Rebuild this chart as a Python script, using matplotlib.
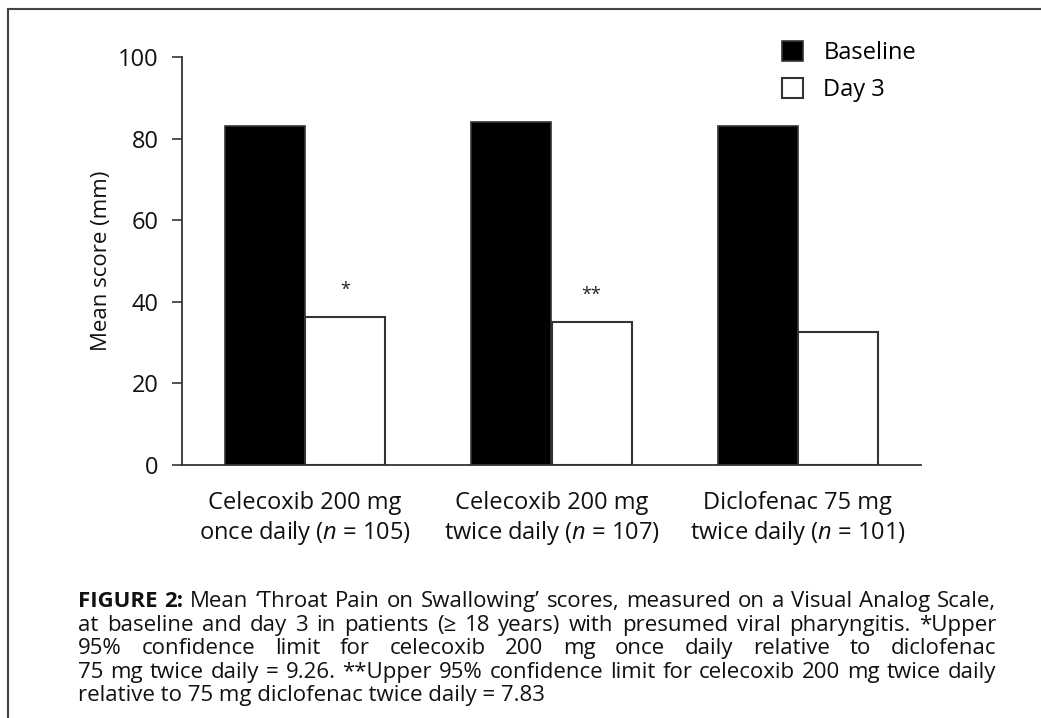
import matplotlib
matplotlib.use('Agg')
import matplotlib.pyplot as plt
import numpy as np

plt.rcParams['font.family'] = ['Open Sans', 'DejaVu Sans']
plt.rcParams['mathtext.fontset'] = 'custom'
plt.rcParams['mathtext.rm'] = 'Open Sans'
plt.rcParams['mathtext.it'] = 'Open Sans:italic'

# data
groups = ['Celecoxib 200 mg\nonce daily ($\\mathit{n}$ = 105)',
          'Celecoxib 200 mg\ntwice daily ($\\mathit{n}$ = 107)',
          'Diclofenac 75 mg\ntwice daily ($\\mathit{n}$ = 101)']
baseline = [83.2, 84.1, 83.2]
day3 = [36.3, 35.1, 32.7]
stars = ['*', '**', '']
yticks = [0, 20, 40, 60, 80, 100]

caption = [
    [('FIGURE', 'bold'), ('2:', 'bold'), ('Mean ‘Throat Pain on Swallowing’ scores, measured on a Visual Analog Scale,', 'normal')],
    [('at baseline and day 3 in patients (≥ 18 years) with presumed viral pharyngitis. *Upper', 'normal')],
    [('95% confidence limit for celecoxib 200 mg once daily relative to diclofenac', 'normal')],
    [('75 mg twice daily = 9.26. **Upper 95% confidence limit for celecoxib 200 mg twice daily', 'normal')],
    [('relative to 75 mg diclofenac twice daily = 7.83', 'normal')],
]

W, H = 1041, 718
fig = plt.figure(figsize=(W / 100, H / 100), dpi=100)


def fx(px):
    return px / W


def fy(py):
    return 1 - py / H


ax = fig.add_axes([fx(182), fy(465), fx(921) - fx(182), fy(57) - fy(465)])

x = np.arange(len(groups))
w = 0.325
ax.bar(x - w / 2, baseline, w, color='black', edgecolor='#333333', lw=1.2, label='Baseline')
ax.bar(x + w / 2, day3, w, color='white', edgecolor='#333333', lw=1.5, label='Day 3')

for xi, v, s in zip(x, day3, stars):
    if s:
        ax.annotate(s, (xi + w / 2, v), xytext=(0, 13), textcoords='offset points',
                    ha='center', va='bottom', fontsize=13, color='#222222')

ax.set_xlim(-0.5, 2.5)
ax.set_ylim(0, 100)
ax.set_yticks(yticks)
ax.set_xticks(x)
ax.set_xticklabels(groups, fontsize=17, color='#111111', linespacing=1.2)
ax.tick_params(axis='x', length=0, pad=19)
ax.tick_params(axis='y', length=7, width=1.2, pad=10, labelsize=17, colors='#333333', labelcolor='#111111')
for sp in ['top', 'right']:
    ax.spines[sp].set_visible(False)
for sp in ['left', 'bottom']:
    ax.spines[sp].set_color('#333333')
    ax.spines[sp].set_linewidth(1.3)
ax.set_ylabel('Mean score (mm)', fontsize=16, color='#111111', labelpad=4)

ax.legend(loc='upper left', bbox_to_anchor=(fx(782), fy(41)), bbox_transform=fig.transFigure,
          frameon=False, fontsize=17, handlelength=0.9, handleheight=0.9,
          handletextpad=0.85, labelspacing=0.55, borderaxespad=0, borderpad=0)

# frame around the figure
fig.add_artist(plt.Line2D([fx(8), 1], [fy(9), fy(9)], color='#444444', lw=1.5))
fig.add_artist(plt.Line2D([fx(8), fx(8)], [fy(9), 0], color='#444444', lw=1.5))

# caption, justified except the last line
renderer = fig.canvas.get_renderer()
x0, x1 = 78, 996
line_y = [607, 631, 654, 678, 701]  # baselines
for i, (runs, ly) in enumerate(zip(caption, line_y)):
    words = []
    for txt, wt in runs:
        for wd in txt.split(' '):
            words.append((wd, wt))
    if i == len(caption) - 1:
        fig.text(fx(x0), fy(ly), runs[0][0], fontsize=16, color='#111111', va='baseline', ha='left')
        continue
    items = [fig.text(0, fy(ly), wd, fontsize=16, fontweight=wt, color='#111111', va='baseline', ha='left')
             for wd, wt in words]
    widths = [t.get_window_extent(renderer).width for t in items]
    gap = (x1 - x0 - sum(widths)) / (len(items) - 1)
    pos = x0
    for t, wd in zip(items, widths):
        t.set_x(fx(pos))
        pos += wd + gap

fig.savefig('out.png', dpi=100)
